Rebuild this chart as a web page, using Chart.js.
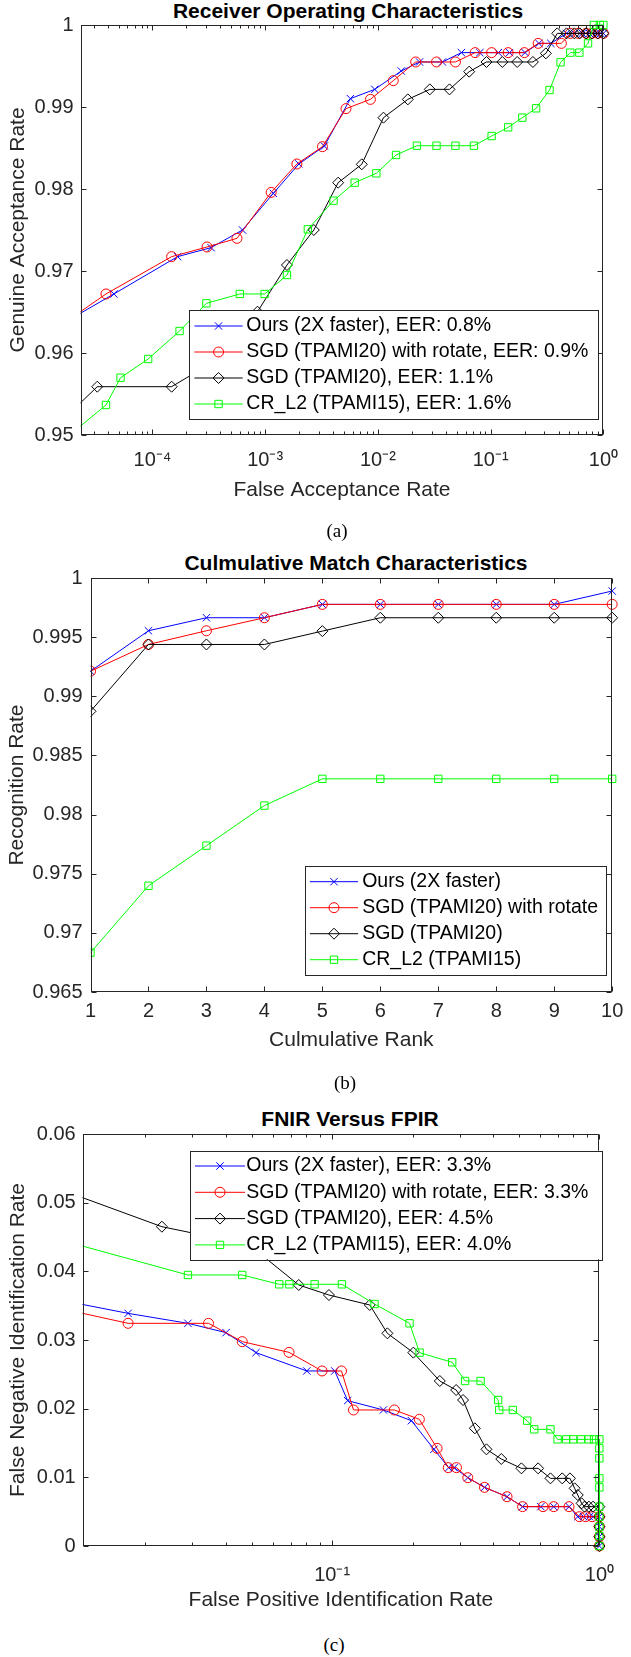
<!DOCTYPE html>
<html>
<head>
<meta charset="utf-8">
<script src="https://cdn.jsdelivr.net/npm/chart.js@4.4.1/dist/chart.umd.min.js"></script>
<style>
  body { margin: 0; background: #fff; width: 631px; height: 1657px; position: relative; overflow: hidden; }
  canvas { position: absolute; left: 0; }
  .title { position: absolute; font: bold 21px 'Liberation Sans', Arial, sans-serif; line-height: 21px; color: #000; white-space: nowrap; transform: translateX(-50%); }
  .cap { position: absolute; font: 19px 'Liberation Serif', 'Times New Roman', serif; line-height: 19px; color: #000; transform: translateX(-50%); z-index: 2; }
</style>
</head>
<body>
<div class="title" style="left:348px;top:0px">Receiver Operating Characteristics</div>
<canvas id="roc" width="631" height="510" style="top:0px;width:631px;height:510px"></canvas>
<div class="cap" style="left:337px;top:521px">(a)</div>

<div class="title" style="left:356px;top:552px">Culmulative Match Characteristics</div>
<canvas id="cmc" width="631" height="520" style="top:540px;width:631px;height:520px"></canvas>
<div class="cap" style="left:345px;top:1073px">(b)</div>

<div class="title" style="left:350px;top:1108px">FNIR Versus FPIR</div>
<canvas id="fnir" width="631" height="530" style="top:1090px;width:631px;height:530px"></canvas>
<div class="cap" style="left:334px;top:1635px">(c)</div>

<script>
// --- (a) ROC : false acceptance rate / genuine acceptance rate ---
const rocLabels = ["Ours (2X faster), EER: 0.8%", "SGD (TPAMI20) with rotate, EER: 0.9%", "SGD (TPAMI20), EER: 1.1%", "CR_L2 (TPAMI15), EER: 1.6%"];
const rocOursX = [1.16e-5, 4.55e-5, 1.67e-4, 3.31e-4, 6.29e-4, 1.18e-3, 1.99e-3, 3.35e-3, 5.70e-3, 9.38e-3, 0.0161, 0.0234, 0.0374, 0.0550, 0.0802, 0.117, 0.147, 0.202, 0.268, 0.342, 0.471, 0.553, 0.650, 0.751, 0.859, 0.947, 1];
const rocOursY = [0.96249, 0.9672, 0.97175, 0.97285, 0.9750, 0.97947, 0.98305, 0.98524, 0.99102, 0.99215, 0.99439, 0.99549, 0.99549, 0.99663, 0.99663, 0.99663, 0.99663, 0.99663, 0.99776, 0.99776, 0.99898, 0.99898, 0.99898, 0.99898, 0.99898, 0.99898, 0.99898];
const rocSgdRotX = [1.26e-5, 3.87e-5, 1.48e-4, 3.05e-4, 5.62e-4, 1.13e-3, 1.91e-3, 3.22e-3, 5.21e-3, 8.58e-3, 0.01368, 0.02163, 0.0331, 0.0487, 0.0728, 0.102, 0.143, 0.199, 0.264, 0.424, 0.509, 0.598, 0.702, 0.792, 0.894, 1];
const rocSgdRotY = [0.96255, 0.9672, 0.97175, 0.97293, 0.97398, 0.97959, 0.98305, 0.98516, 0.9898, 0.99093, 0.99321, 0.99549, 0.99549, 0.99549, 0.99663, 0.99663, 0.99663, 0.99663, 0.99776, 0.99776, 0.99898, 0.99898, 0.99898, 0.99898, 0.99898, 0.99898];
const rocSgdX = [1.53e-5, 3.24e-5, 1.48e-4, 4.0e-4, 8.55e-4, 1.56e-3, 2.70e-3, 4.44e-3, 7.19e-3, 0.0112, 0.01842, 0.02886, 0.04315, 0.0645, 0.0919, 0.127, 0.172, 0.237, 0.309, 0.390, 0.471, 0.553, 0.617, 0.702, 0.792, 0.894, 1];
const rocSgdY = [0.95159, 0.95589, 0.95589, 0.95943, 0.96504, 0.97073, 0.975, 0.98077, 0.98301, 0.9887, 0.99093, 0.99215, 0.99215, 0.99431, 0.99549, 0.99549, 0.99549, 0.99549, 0.99654, 0.99898, 0.99898, 0.99898, 0.99898, 0.99898, 0.99898, 0.99898, 0.99898];
const rocCrX = [1.53e-5, 3.87e-5, 5.21e-5, 9.16e-5, 1.74e-4, 3.01e-4, 5.96e-4, 9.89e-4, 1.56e-3, 2.39e-3, 4.04e-3, 6.22e-3, 9.68e-3, 0.01448, 0.02218, 0.0331, 0.0487, 0.0711, 0.102, 0.143, 0.191, 0.253, 0.333, 0.417, 0.509, 0.612, 0.731, 0.824, 0.931, 1];
const rocCrY = [0.94907, 0.95366, 0.95699, 0.95927, 0.96268, 0.96606, 0.9672, 0.9672, 0.96951, 0.97508, 0.97858, 0.98077, 0.98191, 0.98415, 0.98528, 0.98528, 0.98528, 0.98528, 0.98646, 0.98752, 0.9887, 0.98984, 0.99207, 0.99545, 0.99663, 0.99663, 0.99776, 1, 1, 1];

// --- (b) CMC : rank / recognition rate ---
const cmcLabels = ["Ours (2X faster)", "SGD (TPAMI20) with rotate", "SGD (TPAMI20)", "CR_L2 (TPAMI15)"];
const cmcRanks = [1, 2, 3, 4, 5, 6, 7, 8, 9, 10];
const cmcOurs = [0.99212, 0.99554, 0.99664, 0.99664, 0.99777, 0.99777, 0.99777, 0.99777, 0.99777, 0.9989];
const cmcSgdRot = [0.99212, 0.99438, 0.99554, 0.99664, 0.99777, 0.99777, 0.99777, 0.99777, 0.99777, 0.99777];
const cmcSgd = [0.98873, 0.99438, 0.99438, 0.99438, 0.99551, 0.99664, 0.99664, 0.99664, 0.99664, 0.99664];
const cmcCr = [0.96833, 0.97398, 0.97737, 0.98076, 0.98302, 0.98302, 0.98302, 0.98302, 0.98302, 0.98302];

// --- (c) FNIR vs FPIR ---
const fnirLabels = ["Ours (2X faster), EER: 3.3%", "SGD (TPAMI20) with rotate, EER: 3.3%", "SGD (TPAMI20), EER: 4.5%", "CR_L2 (TPAMI15), EER: 4.0%"];
const fnirOursX = [0.00817, 0.01724, 0.02887, 0.0401, 0.0519, 0.0804, 0.1023, 0.1143, 0.1555, 0.198, 0.2405, 0.2731, 0.286, 0.3219, 0.3716, 0.4513, 0.5161, 0.604, 0.675, 0.771, 0.83, 0.873, 0.918, 0.948, 1, 1, 1, 1];
const fnirOursY = [0.03635, 0.03388, 0.03243, 0.03107, 0.02816, 0.02549, 0.02549, 0.02117, 0.01981, 0.01825, 0.01408, 0.01141, 0.01141, 0.00995, 0.00854, 0.00718, 0.00573, 0.00573, 0.00573, 0.00573, 0.00427, 0.00427, 0.00427, 0.00427, 0.00427, 0.00282, 0.00136, 0];
const fnirSgdRotX = [0.00817, 0.01724, 0.03447, 0.0461, 0.069, 0.0917, 0.1084, 0.1202, 0.171, 0.212, 0.247, 0.272, 0.292, 0.3219, 0.3716, 0.4513, 0.5161, 0.6156, 0.675, 0.77, 0.843, 0.888, 0.94, 1, 1, 1, 1];
const fnirSgdRotY = [0.0352, 0.03243, 0.03243, 0.02976, 0.0282, 0.02549, 0.02549, 0.01981, 0.01981, 0.01845, 0.01422, 0.01141, 0.01141, 0.00995, 0.00854, 0.00718, 0.00573, 0.00573, 0.00573, 0.00573, 0.00427, 0.00427, 0.00427, 0.00427, 0.00282, 0.00136, 0];
const fnirSgdX = [0.00817, 0.02307, 0.0489, 0.075, 0.0973, 0.1383, 0.161, 0.2013, 0.2529, 0.2911, 0.309, 0.342, 0.378, 0.4295, 0.5108, 0.59, 0.656, 0.726, 0.776, 0.808, 0.83, 0.858, 0.88, 0.913, 0.947, 1, 1, 1, 1, 1];
const fnirSgdY = [0.05292, 0.0465, 0.04388, 0.03801, 0.03655, 0.0351, 0.03097, 0.02816, 0.02403, 0.02272, 0.02126, 0.01714, 0.01408, 0.01267, 0.01131, 0.01131, 0.00985, 0.00985, 0.00985, 0.0084, 0.00743, 0.00621, 0.00573, 0.00573, 0.00573, 0.00573, 0.00427, 0.00282, 0.00136, 0];
const fnirCrX = [0.00817, 0.02887, 0.0461, 0.0634, 0.0692, 0.086, 0.1088, 0.1441, 0.1948, 0.2124, 0.2814, 0.3144, 0.3594, 0.4179, 0.422, 0.4746, 0.537, 0.5705, 0.656, 0.6975, 0.751, 0.798, 0.853, 0.912, 0.955, 1, 1, 1, 1, 1, 1, 1, 1, 1, 1];
const fnirCrY = [0.04532, 0.03947, 0.03947, 0.03811, 0.03811, 0.03811, 0.03811, 0.03524, 0.03243, 0.02816, 0.02675, 0.02403, 0.02403, 0.02126, 0.01981, 0.01981, 0.01825, 0.01699, 0.01699, 0.01553, 0.01553, 0.01553, 0.01553, 0.01553, 0.01553, 0.01553, 0.01422, 0.01277, 0.00985, 0.00854, 0.00573, 0.00427, 0.00282, 0.00146, 0];

const seriesColors = ["#0000ff", "#ff0000", "#000000", "#00ff00"];
const markerStyles = ["crossRot", "circle", "rectRot", "rect"];
const markerSizes = [5.2, 5, 5.5, 5.2];

const AXIS = "#262626";
const FONT = "'Liberation Sans', Arial, sans-serif";
Chart.defaults.font.family = FONT;

const SUP = { "-": "\u207B", "0": "\u2070", "1": "\u00B9", "2": "\u00B2", "3": "\u00B3", "4": "\u2074", "5": "\u2075", "6": "\u2076", "7": "\u2077", "8": "\u2078", "9": "\u2079" };
function powLabel(v) {
  const l = Math.log10(v), e = Math.round(l);
  if (Math.abs(l - e) > 1e-6) return "";
  return "10" + String(e).split("").map(c => SUP[c]).join("");
}
function numLabel(v) { return String(Number(v.toFixed(4))); }

function series(label, xs, ys, i) {
  return {
    label,
    data: xs.map((x, k) => ({ x, y: ys[k] })),
    borderColor: seriesColors[i],
    backgroundColor: seriesColors[i],
    borderWidth: 1,
    pointStyle: markerStyles[i],
    pointRadius: markerSizes[i],
    pointBorderColor: seriesColors[i],
    pointBackgroundColor: "rgba(0,0,0,0)",
    pointBorderWidth: 1,
    fill: false,
    tension: 0,
    order: 3 - i, // last series on top, like matlab
    clip: { left: 0, top: 8, right: 8, bottom: 8 },
  };
}

function tickList(s) {
  if (s.type === "logarithmic") {
    const out = [];
    for (let e = Math.floor(Math.log10(s.min)); e <= 0; e++) {
      for (let k = 1; k < 10; k++) {
        const v = k * Math.pow(10, e);
        if (v >= s.min * 0.999999 && v <= s.max * 1.000001) out.push({ p: s.getPixelForValue(v), major: k === 1 });
      }
    }
    return out;
  }
  return s.ticks.map(t => ({ p: s.getPixelForValue(t.value), major: true }));
}

// box + inward ticks on the 4 sides
const boxTicks = {
  id: "boxTicks",
  afterDatasetsDraw(chart) {
    const { ctx, chartArea: a, scales } = chart;
    const L = Math.round(a.left) + 0.5, R = Math.round(a.right) - 0.5;
    const T = Math.round(a.top) + 0.5, B = Math.round(a.bottom) - 0.5;
    ctx.save();
    ctx.strokeStyle = AXIS;
    ctx.lineWidth = 1;
    ctx.beginPath();
    tickList(scales.x).forEach(t => {
      const len = t.major ? 5 : 3, p = Math.round(t.p) + 0.5;
      ctx.moveTo(p, B); ctx.lineTo(p, B - len);
      ctx.moveTo(p, T); ctx.lineTo(p, T + len);
    });
    tickList(scales.y).forEach(t => {
      const len = t.major ? 5 : 3, p = Math.round(t.p) + 0.5;
      ctx.moveTo(L, p); ctx.lineTo(L + len, p);
      ctx.moveTo(R, p); ctx.lineTo(R - len, p);
    });
    ctx.stroke();
    ctx.strokeRect(L, T, R - L, B - T);
    ctx.restore();
  },
};

// matlab-like legend: line + marker + text
const boxLegend = {
  id: "boxLegend",
  afterDraw(chart, args, o) {
    if (!o || !o.box) return;
    const ctx = chart.ctx;
    const [l, t, r, b] = o.box;
    ctx.save();
    ctx.fillStyle = "#fff";
    ctx.fillRect(l, t, r - l, b - t);
    ctx.strokeStyle = AXIS;
    ctx.lineWidth = 1;
    ctx.strokeRect(Math.round(l) + 0.5, Math.round(t) + 0.5, Math.round(r - l), Math.round(b - t));
    chart.data.datasets.forEach((ds, i) => {
      const y = o.rowY + i * o.rowGap;
      ctx.strokeStyle = ds.borderColor;
      ctx.lineWidth = 1;
      ctx.beginPath();
      ctx.moveTo(o.lineX[0], y);
      ctx.lineTo(o.lineX[1], y);
      ctx.stroke();
      ctx.fillStyle = "rgba(0,0,0,0)";
      Chart.helpers.drawPoint(ctx, { pointStyle: ds.pointStyle, radius: ds.pointRadius, borderWidth: 1, rotation: 0 }, (o.lineX[0] + o.lineX[1]) / 2, y);
      ctx.fillStyle = "#000";
      ctx.font = "19.5px " + FONT;
      ctx.textBaseline = "middle";
      ctx.textAlign = "left";
      ctx.fillText(ds.label, o.textX, y);
    });
    ctx.restore();
  },
};

function axis(kind, opts) {
  return {
    type: opts.type,
    min: opts.min,
    max: opts.max,
    grid: { display: false, drawTicks: false },
    border: { display: false },
    ticks: {
      autoSkip: false,
      maxRotation: 0,
      padding: opts.tickPad,
      stepSize: opts.step,
      color: AXIS,
      font: { size: 20 },
      callback: opts.type === "logarithmic" ? (v => powLabel(v)) : (v => numLabel(v)),
    },
    title: {
      display: true,
      text: opts.title,
      color: AXIS,
      font: { size: 21 },
      padding: kind === "x" ? { top: 0, bottom: opts.titlePad } : { top: opts.titlePad, bottom: 0 },
    },
    afterFit: s => { if (kind === "x") s.height = opts.size; else s.width = opts.size; },
  };
}

function makeChart(id, datasets, pad, xOpts, yOpts, legend) {
  return new Chart(document.getElementById(id), {
    type: "line",
    data: { datasets },
    options: {
      responsive: false,
      animation: false,
      events: [],
      devicePixelRatio: 1,
      layout: { autoPadding: false, padding: pad },
      plugins: { legend: { display: false }, tooltip: { enabled: false }, boxLegend: legend },
      scales: { x: axis("x", xOpts), y: axis("y", yOpts) },
    },
    plugins: [boxTicks, boxLegend],
  });
}

makeChart("roc", [
  series(rocLabels[0], rocOursX, rocOursY, 0),
  series(rocLabels[1], rocSgdRotX, rocSgdRotY, 1),
  series(rocLabels[2], rocSgdX, rocSgdY, 2),
  series(rocLabels[3], rocCrX, rocCrY, 3),
], { top: 25, right: 16, bottom: 0, left: 0 },
  { type: "logarithmic", min: 2.3e-5, max: 1, tickPad: 13, title: "False Acceptance Rate", titlePad: 6.7, size: 75 },
  { type: "linear", min: 0.95, max: 1, step: 0.01, tickPad: 7, title: "Genuine Acceptance Rate", titlePad: 5.4, size: 80.5 },
  { box: [189, 310, 598, 419], rowY: 326, rowGap: 26, lineX: [194.4, 242.7], textX: 246.3 });

makeChart("cmc", [
  series(cmcLabels[0], cmcRanks, cmcOurs, 0),
  series(cmcLabels[1], cmcRanks, cmcSgdRot, 1),
  series(cmcLabels[2], cmcRanks, cmcSgd, 2),
  series(cmcLabels[3], cmcRanks, cmcCr, 3),
], { top: 38, right: 9.3, bottom: 0, left: 0 },
  { type: "linear", min: 1, max: 10, step: 1, tickPad: 7.7, title: "Culmulative Rank", titlePad: 7.4, size: 68 },
  { type: "linear", min: 0.965, max: 1, step: 0.005, tickPad: 8, title: "Recognition Rate", titlePad: 4.4, size: 90.5 },
  { box: [304.6, 326, 605.6, 435], rowY: 341.7, rowGap: 26, lineX: [309.9, 358.1], textX: 362.2 });

makeChart("fnir", [
  series(fnirLabels[0], fnirOursX, fnirOursY, 0),
  series(fnirLabels[1], fnirSgdRotX, fnirSgdRotY, 1),
  series(fnirLabels[2], fnirSgdX, fnirSgdY, 2),
  series(fnirLabels[3], fnirCrX, fnirCrY, 3),
], { top: 44, right: 13.3, bottom: 0, left: 0 },
  { type: "logarithmic", min: 0.01164, max: 1, tickPad: 17, title: "False Positive Identification Rate", titlePad: 7.4, size: 74 },
  { type: "linear", min: 0, max: 0.06, step: 0.01, tickPad: 6.8, title: "False Negative Identification Rate", titlePad: 6, size: 82.5 },
  { box: [190, 60.7, 602.4, 169.3], rowY: 76, rowGap: 26.3, lineX: [195, 245], textX: 246.3 });
</script>
</body>
</html>
